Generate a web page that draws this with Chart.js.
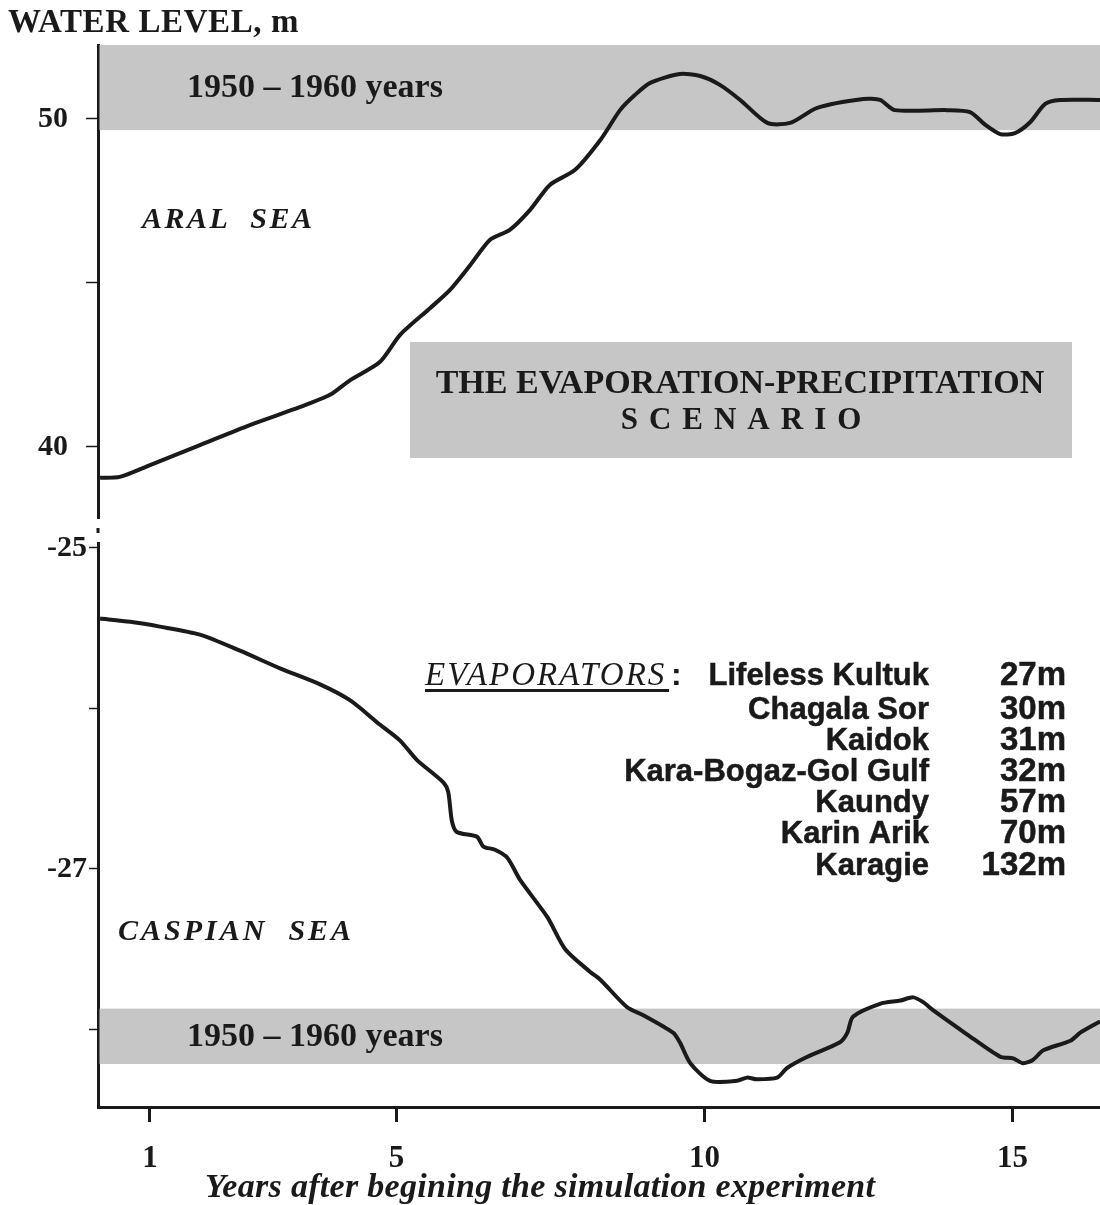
<!DOCTYPE html>
<html>
<head>
<meta charset="utf-8">
<script src="https://cdn.jsdelivr.net/npm/chart.js@4.4.0/dist/chart.umd.min.js"></script>
<style>
  html, body { margin: 0; padding: 0; background: #fff; }
  #wrap { position: relative; width: 1100px; height: 1205px; overflow: hidden; }
  #aral { position: absolute; left: 0; top: 0; }
  #caspian { position: absolute; left: 0; top: 520px; }
</style>
</head>
<body>
<div id="wrap">
  <canvas id="aral" width="1100" height="520"></canvas>
  <canvas id="caspian" width="1100" height="685"></canvas>
</div>
<script>
// years after the start of the simulation
var aralYears = [0.19, 0.51, 1.0, 1.81, 2.62, 3.44, 3.92, 4.25, 4.73, 5.06, 5.55, 5.87, 6.2, 6.52, 6.84, 7.17,
  7.49, 7.9, 8.31, 8.63, 8.87, 9.12, 9.6, 9.93, 10.25, 10.58, 11.02, 11.39, 11.83, 12.58, 12.85, 13.09,
  13.94, 14.31, 14.56, 14.8, 15.04, 15.29, 15.53, 15.77, 16.42];
var aralLevel = [39.06, 39.09, 39.45, 40.06, 40.67, 41.22, 41.59, 42.04, 42.59, 43.42, 44.24, 44.79, 45.55, 46.32, 46.62, 47.23,
  47.99, 48.45, 49.36, 50.27, 50.73, 51.1, 51.37, 51.31, 51.04, 50.58, 49.88, 49.88, 50.34, 50.61, 50.58, 50.27,
  50.27, 50.21, 49.82, 49.54, 49.57, 49.91, 50.46, 50.58, 50.58];

var caspianYears = [0.19, 0.68, 1.16, 1.81, 2.46, 3.11, 3.76, 4.25, 4.73, 5.06, 5.33, 5.76, 5.84, 5.9, 5.98, 6.31,
  6.41, 6.6, 6.8, 7.01, 7.45, 7.74, 8.14, 8.31, 8.74, 9.0, 9.49, 9.6, 9.77, 10.09, 10.53, 10.69,
  10.85, 11.18, 11.34, 11.67, 12.2, 12.32, 12.41, 12.85, 13.18, 13.39, 13.55, 13.71, 14.26, 14.8,
  15.01, 15.17, 15.33, 15.5, 15.94, 16.1, 16.42];
var caspianLevel = [-25.44, -25.46, -25.49, -25.54, -25.64, -25.75, -25.85, -25.95, -26.1, -26.2, -26.32, -26.46, -26.52, -26.7, -26.77, -26.8,
  -26.86, -26.88, -26.93, -27.07, -27.3, -27.5, -27.64, -27.69, -27.86, -27.91, -28.02, -28.08, -28.21, -28.32, -28.32, -28.3,
  -28.31, -28.3, -28.24, -28.17, -28.08, -28.02, -27.92, -27.84, -27.82, -27.8, -27.83, -27.88, -28.03, -28.17,
  -28.18, -28.21, -28.19, -28.13, -28.07, -28.02, -27.95];

var yearTicks = [1, 5, 10, 15];
var aralTicks = [40, 45, 50];
var aralLabelled = [40, 50];
var caspianTicks = [-28, -27, -26, -25];
var caspianLabelled = [-25, -27];

// 1950 - 1960 level ranges
var aralBand = [49.66, 52.3];
var caspianBand = [-28.215, -27.87];

var evapNames = ['Lifeless Kultuk', 'Chagala Sor', 'Kaidok', 'Kara-Bogaz-Gol Gulf', 'Kaundy', 'Karin Arik', 'Karagie'];
var evapDepths = ['27m', '30m', '31m', '32m', '57m', '70m', '132m'];

var xMin = 0.156, xMax = 16.42;
var serif = '"Liberation Serif", "Times New Roman", serif';
var sans = '"Liberation Sans", Arial, sans-serif';
var ink = '#1a1a1a';
var shade = '#c6c6c6';

function pairs(xs, ys) {
  return xs.map(function (x, i) { return { x: x, y: ys[i] }; });
}

function write(ctx, s, x, y, font, align, spacing, heavy) {
  ctx.save();
  ctx.font = font;
  ctx.fillStyle = ink;
  ctx.strokeStyle = ink;
  ctx.textBaseline = 'middle';
  if (spacing) {
    ctx.letterSpacing = spacing + 'px';
    var w = ctx.measureText(s).width - spacing;
    ctx.textAlign = 'left';
    if (align === 'center') x -= w / 2;
    if (align === 'right') x -= w;
  } else {
    ctx.textAlign = align || 'left';
  }
  ctx.fillText(s, x, y);
  if (heavy) {
    ctx.lineWidth = heavy;
    ctx.strokeText(s, x, y);
  }
  ctx.restore();
}

function bandPlugin(band) {
  return {
    id: 'band',
    beforeDatasetsDraw: function (chart) {
      var a = chart.chartArea, y = chart.scales.y, ctx = chart.ctx;
      var top = Math.max(a.top, y.getPixelForValue(band[1]));
      var bot = Math.min(a.bottom, y.getPixelForValue(band[0]));
      ctx.save();
      ctx.fillStyle = shade;
      ctx.fillRect(a.left + 1.5, top, a.right - a.left, bot - top);
      ctx.restore();
    }
  };
}

function yAxis(min, max, ticks, labelled, tickLen, pad) {
  return {
    min: min, max: max,
    afterFit: function (s) { s.width = 98; s.paddingTop = 0; s.paddingBottom = 0; },
    afterBuildTicks: function (s) { s.ticks = ticks.map(function (v) { return { value: v }; }); },
    border: { display: true, color: ink, width: 3 },
    grid: { drawOnChartArea: false, tickLength: tickLen, tickWidth: 1.5, tickColor: ink },
    ticks: {
      padding: pad, color: ink,
      font: { family: serif, size: 30, weight: 'bold' },
      callback: function (v) { return labelled.indexOf(v) >= 0 ? String(v) : ''; }
    }
  };
}

var lineStyle = { borderColor: ink, borderWidth: 4, pointRadius: 0, tension: 0.25, fill: false };

new Chart(document.getElementById('aral'), {
  type: 'line',
  data: { datasets: [Object.assign({ label: 'Aral Sea', data: pairs(aralYears, aralLevel) }, lineStyle)] },
  options: {
    responsive: false, animation: false,
    layout: { padding: { top: 45, bottom: 2, left: 0, right: 0 } },
    plugins: { legend: { display: false }, tooltip: { enabled: false } },
    scales: {
      x: { type: 'linear', min: xMin, max: xMax, display: false },
      y: yAxis(37.835, 52.256, aralTicks, aralLabelled, 12, 18)
    }
  },
  plugins: [bandPlugin(aralBand), {
    id: 'notes',
    afterDraw: function (chart) {
      var ctx = chart.ctx;
      write(ctx, 'WATER LEVEL, m', 8, 23, 'bold 33px ' + serif, 'left', 0.6);
      write(ctx, '1950 \u2013 1960 years', 187, 88, 'bold 34px ' + serif, 'left');
      write(ctx, 'ARAL  SEA', 142, 220, 'italic bold 30px ' + serif, 'left', 2.5);
      ctx.save();
      ctx.fillStyle = shade;
      ctx.fillRect(410, 342, 662, 116);
      ctx.restore();
      write(ctx, 'THE EVAPORATION-PRECIPITATION', 740, 384, 'bold 34px ' + serif, 'center');
      write(ctx, 'SCENARIO', 741, 421, 'bold 31px ' + serif, 'center', 11);
    }
  }]
});

new Chart(document.getElementById('caspian'), {
  type: 'line',
  data: { datasets: [Object.assign({ label: 'Caspian Sea', data: pairs(caspianYears, caspianLevel) }, lineStyle)] },
  options: {
    responsive: false, animation: false,
    layout: { padding: { top: 23, bottom: 0, left: 0, right: 0 } },
    plugins: { legend: { display: false }, tooltip: { enabled: false } },
    scales: {
      x: {
        type: 'linear', min: xMin, max: xMax,
        afterFit: function (s) { s.height = 98; },
        afterBuildTicks: function (s) { s.ticks = yearTicks.map(function (v) { return { value: v }; }); },
        border: { display: true, color: ink, width: 3 },
        grid: { drawOnChartArea: false, tickLength: 15, tickWidth: 3, tickColor: ink },
        ticks: { padding: 18, color: ink, maxRotation: 0, font: { family: serif, size: 31, weight: 'bold' } }
      },
      y: yAxis(-28.483, -24.969, caspianTicks, caspianLabelled, 9, 2)
    }
  },
  plugins: [bandPlugin(caspianBand), {
    id: 'notes',
    afterDraw: function (chart) {
      var ctx = chart.ctx, off = -520;
      // axis break mark
      ctx.save();
      ctx.fillStyle = ink;
      ctx.fillRect(chart.chartArea.left - 1.5, 528 + off, 3, 5);
      ctx.restore();
      write(ctx, 'Years after begining the simulation experiment', 540, 1188 + off,
        'italic bold 34px ' + serif, 'center', 0.3);
      write(ctx, '1950 \u2013 1960 years', 187, 1037 + off, 'bold 34px ' + serif, 'left');
      write(ctx, 'CASPIAN  SEA', 118, 932 + off, 'italic bold 30px ' + serif, 'left', 3);
      write(ctx, 'EVAPORATORS', 425, 676 + off, 'italic 33px ' + serif, 'left', 2);
      ctx.save();
      ctx.fillStyle = ink;
      ctx.fillRect(425, 689 + off, 244, 3);
      ctx.restore();
      write(ctx, ':', 671, 676 + off, 'bold 32px ' + sans, 'left');
      var rows = [676, 710, 741, 772, 803, 834, 866];
      for (var i = 0; i < evapNames.length; i++) {
        write(ctx, evapNames[i], 929, rows[i] + off, 'bold 31px ' + sans, 'right', 0, 0.5);
        write(ctx, evapDepths[i], 1066, rows[i] + off, 'bold 33px ' + sans, 'right', 0, 0.5);
      }
    }
  }]
});
</script>
</body>
</html>
